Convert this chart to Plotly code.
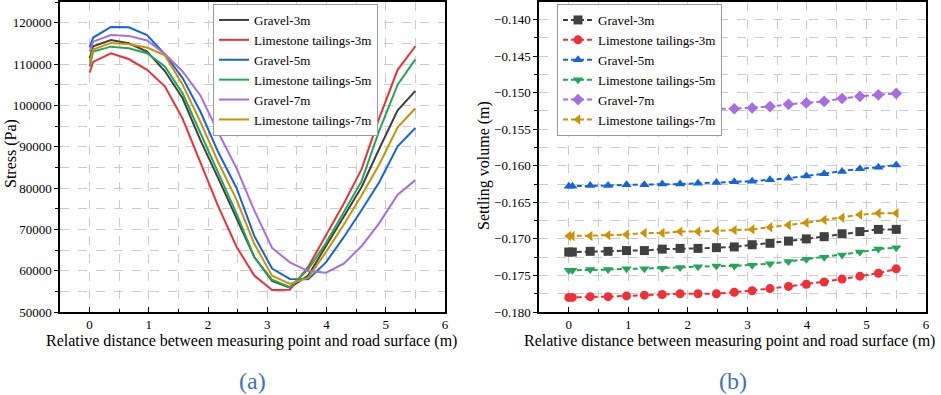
import plotly.graph_objects as go

# ---------------- data ----------------
x_dist = [0, 0.06, 0.36, 0.66, 0.97, 1.27, 1.57, 1.87, 2.17, 2.48, 2.78,
          3.08, 3.38, 3.69, 3.99, 4.29, 4.59, 4.89, 5.2, 5.5]

series_names = ["Gravel-3m", "Limestone tailings-3m", "Gravel-5m",
                "Limestone tailings-5m", "Gravel-7m", "Limestone tailings-7m"]

stress_gravel_3m = [111400, 114300, 115800, 115000, 113000, 108300, 101700, 91600, 82400, 72700,
                    63300, 57500, 55900, 58800, 66000, 73100, 80200, 89500, 98800, 103500]
stress_lime_3m = [107900, 110500, 112600, 111200, 108600, 104600, 96800, 86300, 75600, 65800,
                  58800, 55300, 55400, 60900, 68600, 76200, 84500, 96900, 108600, 114300]
stress_gravel_5m = [114000, 116400, 118950, 118870, 117000, 112300, 106600, 98500, 88700, 80000,
                    68400, 60500, 58000, 57900, 62000, 68100, 74600, 81400, 90100, 94500]
stress_lime_5m = [109400, 113000, 114200, 113800, 112600, 109400, 102900, 93200, 83800, 73800,
                  63300, 57800, 56000, 60300, 66700, 74000, 81600, 93900, 105000, 111100]
stress_gravel_7m = [113000, 115400, 117000, 116800, 115700, 112400, 108200, 102400, 93500, 84800,
                    74600, 65500, 62000, 59900, 59500, 61700, 65900, 71500, 78400, 81900]
stress_lime_7m = [110600, 113500, 115100, 114800, 114000, 112100, 105000, 96000, 86300, 77200,
                  66500, 58800, 56800, 58300, 64500, 71100, 78200, 85700, 94700, 99300]

settle_gravel_3m = [-0.1718, -0.1718, -0.1717, -0.1717, -0.1716, -0.1716, -0.1714, -0.1713, -0.1713, -0.1712,
                    -0.1711, -0.1708, -0.1706, -0.1703, -0.1700, -0.1697, -0.1693, -0.1690, -0.1687, -0.1687]
settle_lime_3m = [-0.1780, -0.1780, -0.1779, -0.1779, -0.1778, -0.1777, -0.1776, -0.1775, -0.1775, -0.1775,
                  -0.1773, -0.1771, -0.1768, -0.1765, -0.1762, -0.1759, -0.1755, -0.1751, -0.1747, -0.1741]
settle_gravel_5m = [-0.1628, -0.1628, -0.1627, -0.1627, -0.1626, -0.1626, -0.1625, -0.1625, -0.1624, -0.1623,
                    -0.1622, -0.1621, -0.1619, -0.1617, -0.1614, -0.1611, -0.1608, -0.1604, -0.1602, -0.1599]
settle_lime_5m = [-0.1743, -0.1743, -0.1742, -0.1742, -0.1741, -0.1741, -0.1740, -0.1739, -0.1738, -0.1737,
                  -0.1737, -0.1736, -0.1734, -0.1731, -0.1728, -0.1725, -0.1722, -0.1718, -0.1714, -0.1712]
settle_gravel_7m = [-0.1527, -0.1527, -0.1527, -0.1527, -0.1526, -0.1526, -0.1525, -0.1524, -0.1523, -0.1522,
                    -0.1522, -0.1521, -0.1519, -0.1516, -0.1514, -0.1512, -0.1508, -0.1505, -0.1503, -0.1501]
settle_lime_7m = [-0.1696, -0.1696, -0.1696, -0.1695, -0.1694, -0.1692, -0.1692, -0.1690, -0.1690, -0.1689,
                  -0.1688, -0.1687, -0.1684, -0.1681, -0.1678, -0.1674, -0.1671, -0.1667, -0.1665, -0.1665]

stress_series = [stress_gravel_3m, stress_lime_3m, stress_gravel_5m,
                 stress_lime_5m, stress_gravel_7m, stress_lime_7m]
settle_series = [settle_gravel_3m, settle_lime_3m, settle_gravel_5m,
                 settle_lime_5m, settle_gravel_7m, settle_lime_7m]

colors = ["#404040", "#f03038", "#1565d8", "#22a658", "#a66ee0", "#cc9200"]
markers = ["square", "circle", "triangle-up", "triangle-down", "diamond", "triangle-left"]

x_title = "Relative distance between measuring point and road surface (m)"
FONT = "Liberation Serif"

W, H = 941, 395
def px(xp): return xp / W
def py(yp): return 1 - yp / H

fig = go.Figure()

for name, vals, col in zip(series_names, stress_series, colors):
    fig.add_trace(go.Scatter(x=x_dist, y=vals, mode="lines", name=name,
                             line=dict(color=col, width=2),
                             xaxis="x", yaxis="y", legend="legend"))

for name, vals, col, mk in zip(series_names, settle_series, colors, markers):
    fig.add_trace(go.Scatter(x=x_dist, y=vals, mode="lines+markers", name=name,
                             line=dict(color=col, width=2, dash="5px,3px"),
                             marker=dict(symbol=mk, size=9, color=col),
                             xaxis="x2", yaxis="y2", legend="legend2"))

grid = dict(showgrid=True, gridcolor="#cccccc", griddash="dash", gridwidth=1)
tfont = dict(family=FONT, size=13, color="black")
common_x = dict(range=[-0.5, 6], tick0=0, dtick=1, ticks="inside", ticklen=5, tickwidth=1,
                tickcolor="black", showline=True, linecolor="black", linewidth=1.5, mirror=True,
                zeroline=False, tickfont=tfont, automargin=False,
                minor=dict(dtick=0.5, ticks="inside", ticklen=3, tickcolor="black",
                           showgrid=True, gridcolor="#cccccc", griddash="dash"),
                **grid)
ydom = [py(312), py(2)]

fig.update_layout(
    width=W, height=H, margin=dict(l=0, r=0, t=0, b=0, autoexpand=False),
    paper_bgcolor="white", plot_bgcolor="white",
    font=dict(family=FONT, color="black"),
    xaxis=dict(domain=[px(60), px(445)], anchor="y", **common_x),
    xaxis2=dict(domain=[px(539), px(926)], anchor="y2", **common_x),
    yaxis=dict(domain=ydom, anchor="x", range=[50000, 125000], tick0=50000, dtick=10000,
               tickformat="d", ticks="outside", ticklen=4, tickcolor="black", automargin=False,
               showline=True, linecolor="black", linewidth=1.5, mirror=True, zeroline=False,
               tickfont=tfont,
               minor=dict(dtick=5000, ticks="outside", ticklen=3, tickcolor="black",
                          showgrid=True, gridcolor="#cccccc", griddash="dash"), **grid),
    yaxis2=dict(domain=ydom, anchor="x2", range=[-0.18, -0.1376], tick0=-0.18, dtick=0.005,
                tickformat=".3f", ticks="outside", ticklen=4, tickcolor="black", automargin=False,
                showline=True, linecolor="black", linewidth=1.5, mirror=True, zeroline=False,
                tickfont=tfont,
                minor=dict(dtick=0.0025, ticks="outside", ticklen=3, tickcolor="black",
                           showgrid=True, gridcolor="#cccccc", griddash="dash"), **grid),
    legend=dict(x=px(213), y=py(4), xanchor="left", yanchor="top",
                bgcolor="white", bordercolor="#999999", borderwidth=1,
                font=dict(family=FONT, size=13, color="black"), tracegroupgap=0),
    legend2=dict(x=px(557), y=py(4), xanchor="left", yanchor="top",
                 bgcolor="white", bordercolor="#999999", borderwidth=1,
                 font=dict(family=FONT, size=13, color="black"), tracegroupgap=0),
    showlegend=True,
)

ann = [
    dict(text="Stress (Pa)", x=px(11), y=py(154), textangle=-90, font=dict(family=FONT, size=16, color="black")),
    dict(text="Settling volume (m)", x=px(484), y=py(166), textangle=-90, font=dict(family=FONT, size=16, color="black")),
    dict(text=x_title, x=px(251.5), y=py(341), font=dict(family=FONT, size=16, color="black")),
    dict(text=x_title, x=px(729), y=py(341), font=dict(family=FONT, size=16, color="black")),
    dict(text="(a)", x=px(253), y=py(381), font=dict(family=FONT, size=24, color="#3f70c2")),
    dict(text="(b)", x=px(733), y=py(381), font=dict(family=FONT, size=24, color="#3f70c2")),
]
for a in ann:
    fig.add_annotation(xref="paper", yref="paper", xanchor="center", yanchor="middle",
                       showarrow=False, **a)

fig.write_html("out.html", config={"displayModeBar": False},
               post_script="document.body.style.margin='0';document.body.style.padding='0';")
